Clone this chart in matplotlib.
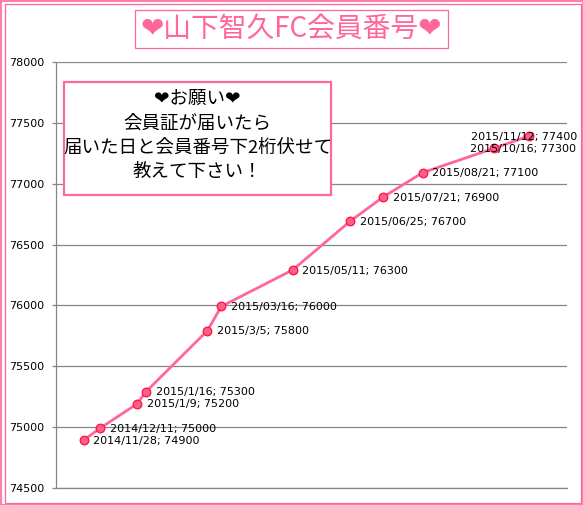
import matplotlib
matplotlib.use('Agg')
import matplotlib.pyplot as plt
from matplotlib.patches import Rectangle
from matplotlib.transforms import ScaledTranslation
import pandas as pd

plt.rcParams['font.family'] = ['DejaVu Sans']
jp_font = ['Noto Sans CJK JP', 'DejaVu Sans']

dates = ['2014/11/28', '2014/12/11', '2015/1/9', '2015/1/16', '2015/3/5', '2015/03/16',
         '2015/05/11', '2015/06/25', '2015/07/21', '2015/08/21', '2015/10/16', '2015/11/12']
numbers = [74900, 75000, 75200, 75300, 75800, 76000, 76300, 76700, 76900, 77100, 77300, 77400]
yticks = [74500, 75000, 75500, 76000, 76500, 77000, 77500, 78000]
title = '❤山下智久FC会員番号❤'
note = '❤お願い❤\n会員証が届いたら\n届いた日と会員番号下2桁伏せて\n教えて下さい！'

W, H = 583, 505
pink = '#ff669c'
gray = '#868686'

fig = plt.figure(figsize=(W / 100, H / 100), dpi=100, facecolor='white')

# pixel helpers, y measured from the top of the picture
def fx(px):
    return px / W
def fy(py):
    return 1 - py / H
def box(x0, y0, x1, y1, lw, face='white'):
    fig.add_artist(Rectangle((fx(x0), fy(y1)), (x1 - x0) / W, (y1 - y0) / H, transform=fig.transFigure,
                             facecolor=face, edgecolor=pink, linewidth=lw, zorder=5))

ax = fig.add_axes([fx(55.5), fy(488), (567 - 55.5) / W, (488 - 62) / H])
x = pd.to_datetime(dates, format='%Y/%m/%d')
# the line sits about a pixel under the gridlines in the original
nudge = ax.transData + ScaledTranslation(0, -1 / 100, fig.dpi_scale_trans)
ax.plot(x, numbers, color=pink, linewidth=2.0, marker='o', markersize=6.2,
        markerfacecolor='#ff5f8a', markeredgecolor='#ff1040', markeredgewidth=0.9, zorder=3,
        transform=nudge)

ax.set_xlim(pd.Timestamp('2014-11-06'), pd.Timestamp('2015-12-12'))
ax.set_ylim(74500, 78000)
ax.set_yticks(yticks)
ax.set_xticks([])
ax.grid(axis='y', color=gray, linewidth=0.9)
ax.set_axisbelow(True)
ax.tick_params(axis='y', length=3.2, width=0.9, color=gray, pad=5, labelsize=8)
for side in ['top', 'right']:
    ax.spines[side].set_visible(False)
for side in ['left', 'bottom']:
    ax.spines[side].set_color(gray)
    ax.spines[side].set_linewidth(0.9)

for i, (d, n) in enumerate(zip(dates, numbers)):
    # last two labels sit over the points, the rest to the right
    dx = {10: -24, 11: -58}.get(i, 9.5)
    ax.annotate(f'{d}; {n}', (x[i], n), xytext=(dx * 0.72, -1.2), textcoords='offset points',
                fontsize=8, va='center', ha='left', color='black', zorder=4)

# double frame
box(0.5, 0.5, W - 0.5, H - 0.5, 1.2, 'none')
box(4.5, 3.5, W - 2.5, H - 2.5, 0.9, 'none')

box(134.5, 9.5, 448.5, 48, 0.9)
fig.text(fx(291.5), fy(29), title, color=pink, fontsize=20, ha='center', va='center',
         family=jp_font, zorder=6)

box(63.5, 81.5, 331, 195, 1.6)
fig.text(fx(197.5), fy(135.5), note, color='black', fontsize=13.3, ha='center', va='center',
         family=jp_font, linespacing=1.45, zorder=6)

fig.savefig('out.png', dpi=100)
